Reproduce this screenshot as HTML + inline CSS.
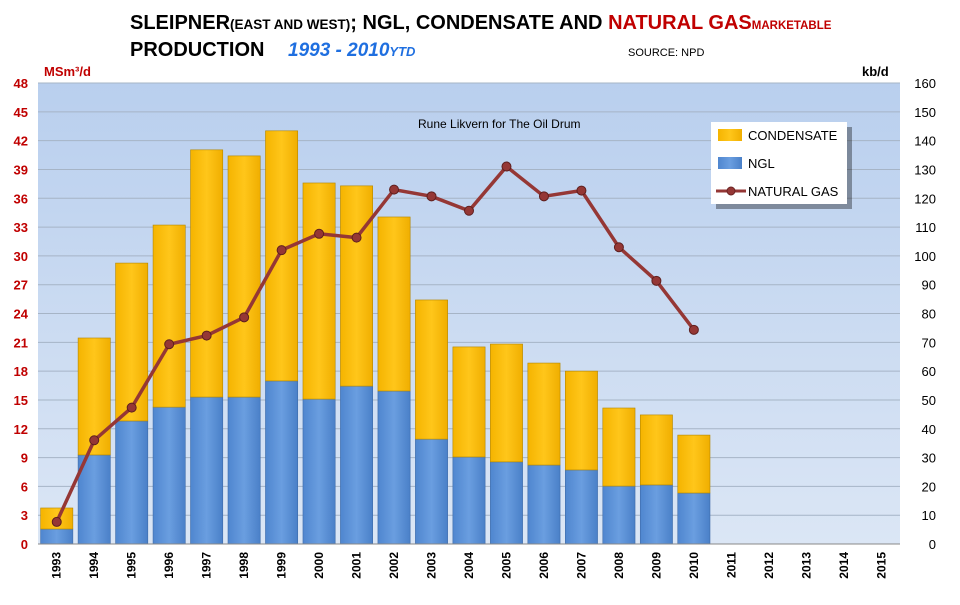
<!DOCTYPE html>
<html><head><meta charset="utf-8"><style>
body{margin:0;background:#fff;font-family:"Liberation Sans",sans-serif;}
svg text{font-family:"Liberation Sans",sans-serif;}
</style></head><body>
<svg id="c" width="960" height="600" xmlns="http://www.w3.org/2000/svg">
<defs>
<linearGradient id="bg" x1="0" y1="0" x2="0" y2="1"><stop offset="0" stop-color="#b9cfee"/><stop offset="1" stop-color="#dbe6f5"/></linearGradient>
<linearGradient id="gc" x1="0" y1="0" x2="1" y2="0"><stop offset="0" stop-color="#f5b400"/><stop offset="0.5" stop-color="#ffc61a"/><stop offset="1" stop-color="#f0ae00"/></linearGradient>
<linearGradient id="gn" x1="0" y1="0" x2="1" y2="0"><stop offset="0" stop-color="#4f86cf"/><stop offset="0.5" stop-color="#6a9ee0"/><stop offset="1" stop-color="#4a80c8"/></linearGradient>
</defs>
<rect x="38" y="83" width="862" height="461" fill="url(#bg)"/>
<g id="grid"></g><g id="bars"></g><g id="line"></g><g id="axes"></g>
<text x="130" y="29" font-size="20" font-weight="bold">SLEIPNER<tspan font-size="13.5">(EAST AND WEST)</tspan>; NGL, CONDENSATE AND <tspan fill="#c00000">NATURAL GAS</tspan><tspan font-size="11.5" fill="#c00000">MARKETABLE</tspan></text>
<text x="130" y="56" font-size="20" font-weight="bold">PRODUCTION</text>
<text x="288" y="56" font-size="19" font-weight="bold" font-style="italic" fill="#1f6fe0">1993 - 2010<tspan font-size="13">YTD</tspan></text>
<text x="628" y="56" font-size="11">SOURCE: NPD</text>
<text x="418" y="128" font-size="12">Rune Likvern for The Oil Drum</text>
<text x="44" y="76" font-size="13" font-weight="bold" fill="#c00000">MSm³/d</text>
<text x="862" y="76" font-size="13" font-weight="bold">kb/d</text>
<g>
<rect x="716" y="127" width="136" height="82" fill="#000" opacity="0.35"/>
<rect x="711" y="122" width="136" height="82" fill="#fff"/>
<rect x="718" y="129" width="24" height="12" fill="url(#gc)"/>
<text x="748" y="140" font-size="13">CONDENSATE</text>
<rect x="718" y="157" width="24" height="12" fill="url(#gn)"/>
<text x="748" y="168" font-size="13">NGL</text>
<line x1="716" y1="191" x2="746" y2="191" stroke="#953735" stroke-width="3"/>
<circle cx="731" cy="191" r="4" fill="#953735" stroke="#6b2423"/>
<text x="748" y="196" font-size="13">NATURAL GAS</text>
</g>
</svg>
<script>
const years=["1993","1994","1995","1996","1997","1998","1999","2000","2001","2002","2003","2004","2005","2006","2007","2008","2009","2010","2011","2012","2013","2014","2015"];
const ngl=[5.2,30.9,42.7,47.5,51.0,51.0,56.6,50.3,54.8,53.1,36.4,30.2,28.5,27.4,25.7,20.1,20.5,17.7];
const condensate=[7.3,40.6,54.8,63.2,85.8,83.7,86.8,75.0,69.5,60.4,48.3,38.2,40.9,35.4,34.3,27.1,24.3,20.1];
const gas=[2.3,10.8,14.2,20.8,21.7,23.6,30.6,32.3,31.9,36.9,36.2,34.7,39.3,36.2,36.8,30.9,27.4,22.3];
const leftTicks=[0,3,6,9,12,15,18,21,24,27,30,33,36,39,42,45,48];
const rightTicks=[0,10,20,30,40,50,60,70,80,90,100,110,120,130,140,150,160];
const X0=38,X1=900,Y0=544,Y1=83;
const bw=(X1-X0)/years.length;
const xc=i=>X0+bw*(i+0.5);
const yL=v=>Y0-(v/48)*(Y0-Y1);
const yR=v=>Y0-(v/160)*(Y0-Y1);
const NS="http://www.w3.org/2000/svg";
function mk(t,a,p){const e=document.createElementNS(NS,t);for(const k in a)e.setAttribute(k,a[k]);p.appendChild(e);return e;}
const grid=document.getElementById('grid'),bars=document.getElementById('bars'),line=document.getElementById('line'),axes=document.getElementById('axes');
leftTicks.forEach((v,i)=>{
 if(v>0){const g=mk('line',{x1:X0,x2:X1,y1:yL(v),y2:yL(v),stroke:'#a6b4c6','stroke-width':1},grid);
 
 }
 const t=mk('text',{x:28,y:yL(v)+5,'font-size':13,'font-weight':'bold',fill:'#c00000','text-anchor':'end'},axes);t.textContent=v;
 
 
});
rightTicks.forEach(v=>{
 const t=mk('text',{x:936,y:yR(v)+5,'font-size':13,'text-anchor':'end'},axes);t.textContent=v;
 
 
});
ngl.forEach((n,i)=>{
 const w=bw*0.86,x=xc(i)-w/2;
 const b1=mk('rect',{x:x,y:yR(n),width:w,height:Y0-yR(n),fill:'url(#gn)',stroke:'#3d6aa8','stroke-width':0.6},bars);
 
 
 const tot=n+condensate[i];
 const b2=mk('rect',{x:x,y:yR(tot),width:w,height:yR(n)-yR(tot),fill:'url(#gc)',stroke:'#b38600','stroke-width':0.6},bars);
 
 
});
const pts=gas.map((v,i)=>xc(i)+','+yL(v)).join(' ');
const pl=mk('polyline',{points:pts,fill:'none',stroke:'#953735','stroke-width':3.5},line);


gas.forEach((v,i)=>{
 const c=mk('circle',{cx:xc(i),cy:yL(v),r:4.5,fill:'#953735',stroke:'#5e1f1e','stroke-width':1},line);
 
 
});
const ax=mk('line',{x1:X0,x2:X1,y1:Y0,y2:Y0,stroke:'#888','stroke-width':1},axes);


years.forEach((y,i)=>{
 const t=mk('text',{x:0,y:0,'font-size':12,'font-weight':'bold','text-anchor':'end',transform:`translate(${xc(i)+4},552) rotate(-90)`},axes);t.textContent=y;
 
 
});
</script>
</body></html>
